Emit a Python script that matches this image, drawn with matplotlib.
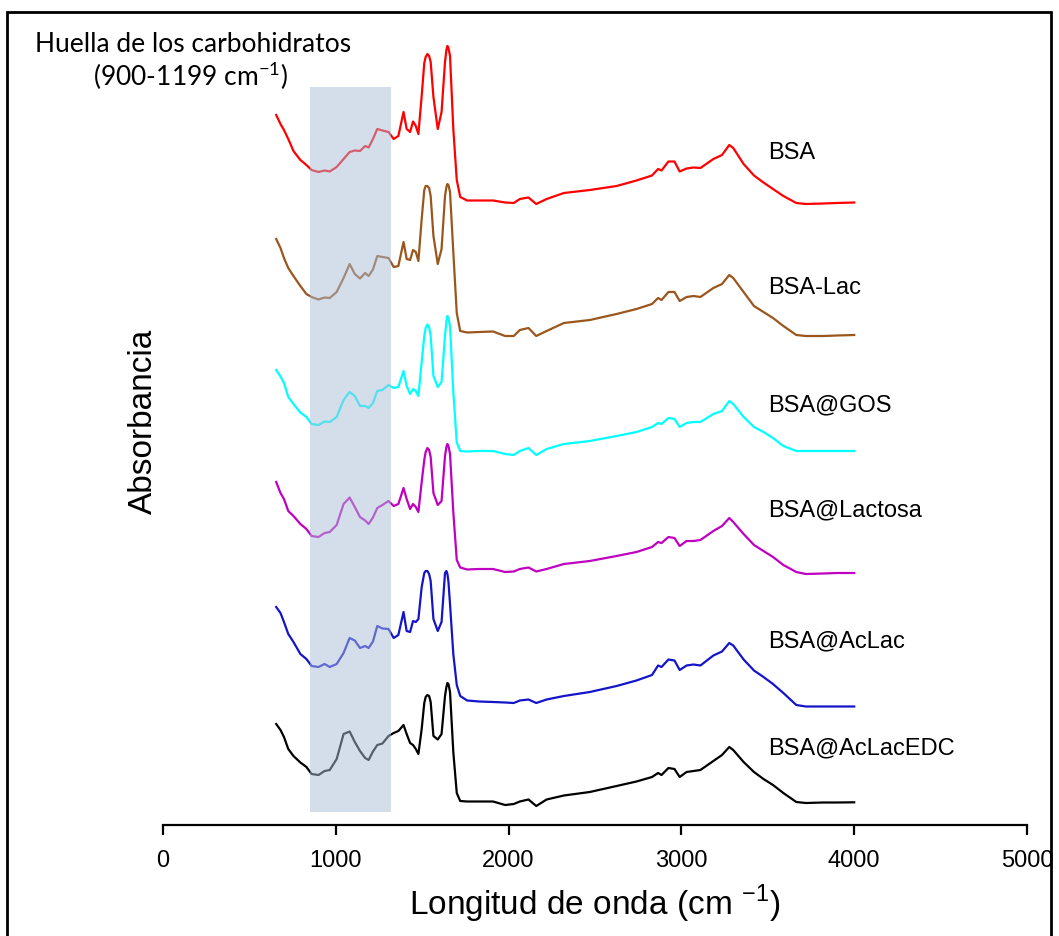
import matplotlib
matplotlib.use("Agg")
import matplotlib.pyplot as plt
from matplotlib.patches import Rectangle

# ---------------- data ----------------
wavenumber = [655, 680, 700, 725, 755, 795, 830, 860, 900, 935, 965, 1005, 1045, 1080, 1110,
              1140, 1170, 1190, 1215, 1240, 1270, 1305, 1335, 1362, 1392, 1410, 1430, 1447, 1463,
              1478, 1497, 1512, 1520, 1530, 1540, 1549, 1565, 1590, 1612, 1632, 1640, 1646, 1652,
              1661, 1680, 1700, 1720,
              1760, 1830, 1910, 1980, 2030, 2065, 2115, 2160, 2220, 2320, 2470, 2625, 2740, 2830,
              2865, 2885, 2925, 2960, 2990, 3030, 3070, 3110, 3185, 3235, 3277, 3300, 3360, 3420,
              3475, 3530, 3590, 3665, 3720, 3820, 3900, 4000]

bsa = [7.10, 7.01, 6.95, 6.86, 6.74, 6.65, 6.60, 6.55, 6.53, 6.545, 6.535, 6.58, 6.66, 6.73, 6.745,
       6.74, 6.79, 6.775, 6.86, 6.96, 6.945, 6.93, 6.86, 6.89, 7.13, 6.96, 6.93, 7.035, 6.99,
       6.91, 7.29, 7.62, 7.68, 7.71, 7.69, 7.63, 7.28, 6.96, 7.13, 7.63, 7.75, 7.79, 7.77,
       7.69, 6.96, 6.45, 6.28,
       6.245, 6.245, 6.245, 6.225, 6.22, 6.26, 6.275, 6.21, 6.26, 6.32, 6.35, 6.39, 6.445, 6.495,
       6.56, 6.545, 6.635, 6.635, 6.535, 6.565, 6.575, 6.57, 6.66, 6.70, 6.80, 6.77, 6.61, 6.495,
       6.425, 6.36, 6.29, 6.22, 6.21, 6.215, 6.22, 6.225]

bsa_lac = [5.86, 5.77, 5.67, 5.57, 5.49, 5.39, 5.31, 5.28, 5.255, 5.275, 5.27, 5.33, 5.47, 5.61, 5.51,
           5.465, 5.52, 5.49, 5.555, 5.69, 5.68, 5.67, 5.58, 5.59, 5.83, 5.66, 5.65, 5.75, 5.73,
           5.64, 6.06, 6.35, 6.39, 6.39, 6.37, 6.29, 5.89, 5.61, 5.76, 6.29, 6.38, 6.41, 6.40,
           6.33, 5.73, 5.12, 4.94,
           4.925, 4.93, 4.935, 4.89, 4.89, 4.95, 4.97, 4.89, 4.94, 5.02, 5.05, 5.11, 5.16, 5.21,
           5.27, 5.25, 5.33, 5.33, 5.24, 5.28, 5.29, 5.28, 5.37, 5.41, 5.50, 5.47, 5.33, 5.19,
           5.13, 5.07, 4.99, 4.90, 4.89, 4.89, 4.895, 4.90]

bsa_gos = [4.55, 4.485, 4.42, 4.28, 4.21, 4.125, 4.08, 4.01, 4.00, 4.035, 4.03, 4.08, 4.25, 4.33, 4.29,
           4.19, 4.19, 4.17, 4.22, 4.34, 4.35, 4.40, 4.37, 4.38, 4.54, 4.39, 4.31, 4.36, 4.34,
           4.29, 4.63, 4.89, 4.97, 5.005, 4.98, 4.89, 4.49, 4.38, 4.43, 4.89, 5.04, 5.09, 5.07,
           4.99, 4.33, 3.825, 3.74,
           3.735, 3.74, 3.74, 3.71, 3.70, 3.74, 3.77, 3.70, 3.76, 3.81, 3.84, 3.89, 3.93, 3.98,
           4.02, 4.01, 4.07, 4.06, 3.98, 4.02, 4.03, 4.03, 4.11, 4.14, 4.24, 4.21, 4.08, 3.98,
           3.93, 3.87, 3.79, 3.74, 3.74, 3.74, 3.74, 3.74]

bsa_lactosa = [3.43, 3.32, 3.26, 3.14, 3.09, 3.01, 2.96, 2.89, 2.88, 2.92, 2.93, 3.00, 3.21, 3.275, 3.18,
               3.08, 3.045, 3.01, 3.075, 3.17, 3.20, 3.24, 3.19, 3.21, 3.37, 3.26, 3.16, 3.21, 3.18,
               3.13, 3.43, 3.65, 3.73, 3.77, 3.75, 3.68, 3.32, 3.20, 3.24, 3.69, 3.78, 3.81, 3.79,
               3.71, 3.13, 2.65, 2.575,
               2.555, 2.56, 2.56, 2.53, 2.535, 2.56, 2.575, 2.535, 2.56, 2.61, 2.64, 2.69, 2.73, 2.78,
               2.83, 2.82, 2.88, 2.87, 2.79, 2.84, 2.84, 2.85, 2.94, 2.99, 3.07, 3.03, 2.91, 2.80,
               2.74, 2.68, 2.60, 2.53, 2.51, 2.515, 2.52, 2.52]

bsa_aclac = [2.18, 2.12, 2.03, 1.91, 1.83, 1.71, 1.66, 1.59, 1.58, 1.61, 1.58, 1.61, 1.72, 1.87, 1.845,
             1.77, 1.79, 1.77, 1.835, 1.99, 1.965, 1.96, 1.87, 1.90, 2.13, 1.94, 1.93, 2.04, 2.03,
             2.06, 2.38, 2.52, 2.54, 2.54, 2.51, 2.44, 2.06, 1.94, 2.03, 2.52, 2.54, 2.51, 2.43,
             2.21, 1.71, 1.40, 1.29,
             1.245, 1.235, 1.23, 1.225, 1.22, 1.245, 1.255, 1.22, 1.255, 1.29, 1.33, 1.39, 1.445, 1.50,
             1.595, 1.58, 1.655, 1.645, 1.55, 1.595, 1.605, 1.595, 1.695, 1.735, 1.82, 1.795, 1.655, 1.545,
             1.48, 1.41, 1.32, 1.20, 1.185, 1.185, 1.185, 1.185]

bsa_aclacedc = [1.01, 0.95, 0.88, 0.76, 0.69, 0.625, 0.58, 0.51, 0.50, 0.54, 0.55, 0.66, 0.91, 0.935, 0.83,
                0.74, 0.67, 0.65, 0.735, 0.80, 0.815, 0.89, 0.92, 0.94, 1.00, 0.91, 0.82, 0.80, 0.76,
                0.71, 0.96, 1.22, 1.28, 1.30, 1.29, 1.23, 0.89, 0.855, 0.91, 1.29, 1.38, 1.42, 1.41,
                1.33, 0.73, 0.32, 0.24,
                0.235, 0.235, 0.235, 0.20, 0.21, 0.235, 0.255, 0.19, 0.255, 0.295, 0.33, 0.39, 0.435, 0.48,
                0.52, 0.50, 0.57, 0.56, 0.48, 0.53, 0.54, 0.55, 0.64, 0.70, 0.78, 0.75, 0.63, 0.53,
                0.46, 0.40, 0.32, 0.23, 0.22, 0.225, 0.225, 0.227]

series_names = ["BSA", "BSA-Lac", "BSA@GOS", "BSA@Lactosa", "BSA@AcLac", "BSA@AcLacEDC"]
series_values = [bsa, bsa_lac, bsa_gos, bsa_lactosa, bsa_aclac, bsa_aclacedc]
series_colors = ["#FF0000", "#9A561C", "#00FFFF", "#C000C0", "#1414C8", "#000000"]
label_y = [6.73, 5.38, 4.21, 3.16, 1.85, 0.78]

x_ticks = [0, 1000, 2000, 3000, 4000, 5000]

# ---------------- figure ----------------
W, H = 1059, 937
fig = plt.figure(figsize=(W / 100, H / 100), dpi=100)
ax = fig.add_axes([163 / W, 111 / H, 864 / W, 826 / H])
ax.set_xlim(0, 5000)
ax.set_ylim(0, 8.26)

for vals, col in zip(series_values, series_colors):
    ax.plot(wavenumber, vals, color=col, lw=1.6, zorder=2, solid_joinstyle="round")

for name, yl in zip(series_names, label_y):
    ax.text(3500, yl, name, fontsize=17, family="Liberation Sans", va="center", ha="left")

# carbohydrate fingerprint shading (drawn over the spectra, semi-transparent)
ax.add_patch(Rectangle((851, 0.13), 1319 - 851, 7.25, facecolor="#ABBFD9",
                       edgecolor="none", alpha=0.5, zorder=3))

for s in ["left", "right", "top"]:
    ax.spines[s].set_visible(False)
ax.spines["bottom"].set_linewidth(1.6)
ax.set_yticks([])
ax.set_xticks(x_ticks)
ax.tick_params(axis="x", direction="out", length=7, width=1.6, pad=10)
for lab in ax.get_xticklabels():
    lab.set_fontfamily("Liberation Sans")
    lab.set_fontsize(17)

ax.set_xlabel("Longitud de onda (cm $^{\\mathregular{-1}}$)", fontsize=24,
              family="Liberation Sans", labelpad=8)
fig.text(143 / W, 1 - 421 / H, "Absorbancia", rotation=90, fontsize=24,
         family="Liberation Sans", ha="center", va="center")

fig.text(193 / W, 1 - 45 / H, "Huella de los carbohidratos", fontsize=19,
         family="Lato", ha="center", va="center")
fig.text(191 / W, 1 - 76 / H, "(900-1199 cm$^{\\mathregular{-1}}$)", fontsize=19,
         family="Lato", ha="center", va="center")

# outer frame
fig.add_artist(Rectangle((7 / W, -0.01), (1051 - 7) / W, (H - 13) / H + 0.01,
                         transform=fig.transFigure, fill=False, lw=2, ec="black"))

fig.savefig("out.png", dpi=100)
